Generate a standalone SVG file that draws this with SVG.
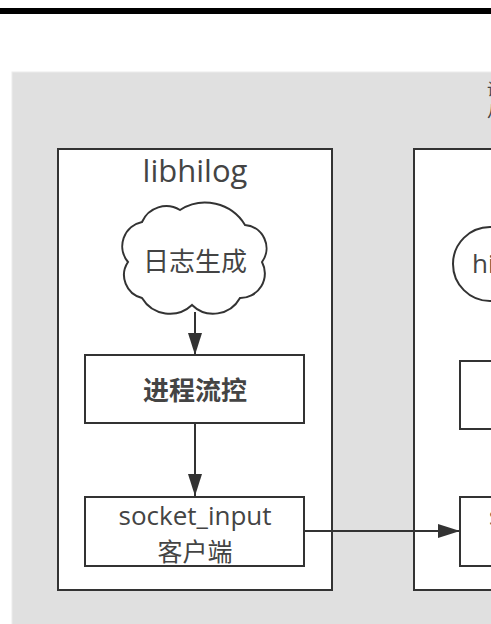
<svg xmlns="http://www.w3.org/2000/svg" width="491" height="624" viewBox="0 0 491 624">
  <defs>
    <marker id="arrow" viewBox="0 0 22 14" refX="22" refY="7" markerWidth="22" markerHeight="14" markerUnits="userSpaceOnUse" orient="auto">
      <path d="M0,0 L22,7 L0,14 Z" fill="#333"/>
    </marker>
    <style>
      .box { fill: #ffffff; stroke: #333333; stroke-width: 2; }
      .edge { fill: none; stroke: #333333; stroke-width: 2; }
      .txt { font-family: "Open Sans", "Noto Sans CJK SC", sans-serif; fill: #444444; }
      .cjk { font-family: "Noto Sans CJK SC", sans-serif; fill: #444444; }
    </style>
  </defs>

  <!-- page -->
  <rect x="0" y="0" width="491" height="624" fill="#ffffff"/>
  <rect x="0" y="8" width="491" height="6" fill="#000000"/>

  <!-- outer grey container -->
  <g id="container">
    <rect x="12" y="72" width="490" height="560" fill="#e0e0e0" stroke="#ececec" stroke-width="1"/>
    <text class="cjk" x="487" y="95" font-size="16">设计</text>
    <text class="cjk" x="487" y="117" font-size="16">从</text>
  </g>

  <!-- libhilog module -->
  <g id="libhilog">
    <rect class="box" x="58" y="149" width="274" height="441"/>
    <text class="txt" x="195" y="182" font-size="31" text-anchor="middle" fill="#333">libhilog</text>
  </g>

  <g id="log-gen">
    <path class="box" d="M142,222 A26.5,26.5 0 0 1 180,210 A46.7,46.7 0 0 1 245,225 A23.3,23.3 0 0 1 262,262 A24.5,24.5 0 0 1 240,298 A30.5,30.5 0 0 1 192,305 A32.5,32.5 0 0 1 142,298 A23.6,23.6 0 0 1 128,262 A24.7,24.7 0 0 1 142,222 Z"/>
    <text class="cjk" x="195" y="271" font-size="26" text-anchor="middle">日志生成</text>
  </g>

  <g id="flow-ctrl">
    <rect class="box" x="85" y="355" width="219" height="68"/>
    <text class="cjk" x="195" y="400" font-size="26" font-weight="bold" text-anchor="middle" fill="#111">进程流控</text>
  </g>

  <g id="socket-client">
    <rect class="box" x="85" y="497" width="219" height="69"/>
    <text class="txt" x="195" y="525" font-size="26" text-anchor="middle" fill="#555">socket_input</text>
    <text class="cjk" x="195" y="561" font-size="25" text-anchor="middle" fill="#555">客户端</text>
  </g>

  <!-- hilogd module -->
  <g id="hilogd">
    <rect class="box" x="414" y="149" width="120" height="441"/>
  </g>

  <g id="hilogd-main">
    <rect class="box" x="453" y="227" width="150" height="74" rx="37" ry="37"/>
    <text class="txt" x="472" y="273" font-size="26" fill="#333">hilogd</text>
  </g>

  <g id="server-ctrl">
    <rect class="box" x="460" y="361" width="120" height="68"/>
  </g>

  <g id="socket-server">
    <rect class="box" x="460" y="497" width="120" height="69"/>
    <text class="txt" x="489" y="525" font-size="25" fill="#555">socket_server</text>
  </g>

  <!-- connectors -->
  <g id="connectors">
    <line class="edge" x1="195" y1="312" x2="195" y2="355" marker-end="url(#arrow)"/>
    <line class="edge" x1="195" y1="423" x2="195" y2="496" marker-end="url(#arrow)"/>
    <line class="edge" x1="304" y1="531" x2="460" y2="531" marker-end="url(#arrow)"/>
  </g>
</svg>
